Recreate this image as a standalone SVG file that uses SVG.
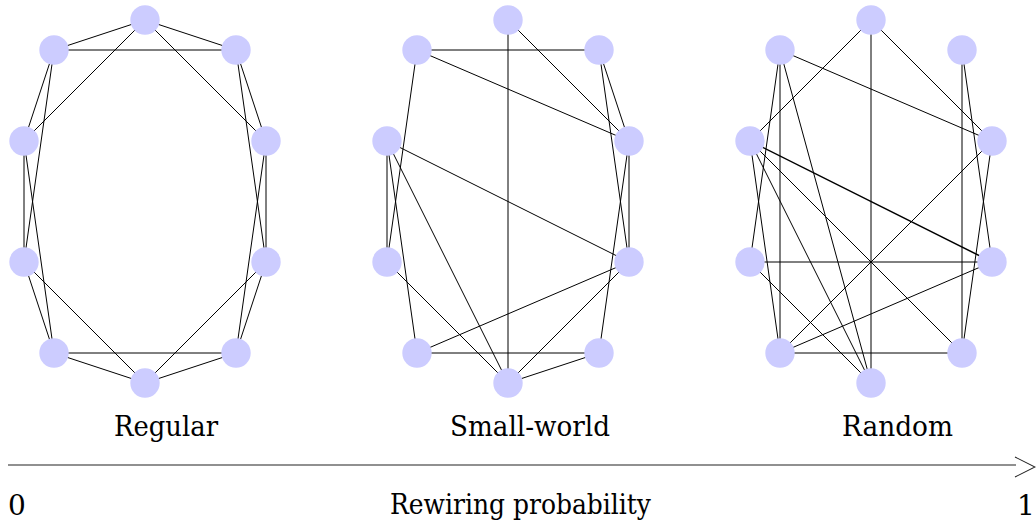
<svg xmlns="http://www.w3.org/2000/svg" width="1036" height="521" viewBox="0 0 1036 521">
<style>
.e{stroke:#000;stroke-width:1;fill:none}
.e2{stroke:#000;stroke-width:1.5;fill:none}
.n{fill:#ccccff;stroke:none}
.t{font-family:"DejaVu Serif",serif;font-size:28px;fill:#000}
.ax{stroke:#222;stroke-width:1.1;fill:none}
</style>
<rect width="1036" height="521" fill="#fff"/>
<g id="connectors">
<g id="regular-edges">
<line class="e" x1="145" y1="20" x2="236" y2="50"/>
<line class="e" x1="236" y1="50" x2="266" y2="141"/>
<line class="e" x1="266" y1="141" x2="266" y2="262"/>
<line class="e" x1="266" y1="262" x2="236" y2="353"/>
<line class="e" x1="236" y1="353" x2="145" y2="383"/>
<line class="e" x1="145" y1="383" x2="54" y2="353"/>
<line class="e" x1="54" y1="353" x2="24" y2="262"/>
<line class="e" x1="24" y1="262" x2="24" y2="141"/>
<line class="e" x1="24" y1="141" x2="54" y2="50"/>
<line class="e" x1="54" y1="50" x2="145" y2="20"/>
<line class="e" x1="145" y1="20" x2="266" y2="141"/>
<line class="e" x1="236" y1="50" x2="266" y2="262"/>
<line class="e" x1="266" y1="141" x2="236" y2="353"/>
<line class="e" x1="266" y1="262" x2="145" y2="383"/>
<line class="e" x1="236" y1="353" x2="54" y2="353"/>
<line class="e" x1="145" y1="383" x2="24" y2="262"/>
<line class="e" x1="54" y1="353" x2="24" y2="141"/>
<line class="e" x1="24" y1="262" x2="54" y2="50"/>
<line class="e" x1="24" y1="141" x2="145" y2="20"/>
<line class="e" x1="54" y1="50" x2="236" y2="50"/>
</g>
<g id="smallworld-edges">
<line class="e" x1="508" y1="20" x2="508" y2="383"/>
<line class="e" x1="508" y1="20" x2="629" y2="141"/>
<line class="e" x1="417" y1="50" x2="599" y2="50"/>
<line class="e" x1="417" y1="50" x2="629" y2="141"/>
<line class="e" x1="417" y1="50" x2="387" y2="262"/>
<line class="e" x1="599" y1="50" x2="629" y2="141"/>
<line class="e" x1="599" y1="50" x2="629" y2="262"/>
<line class="e" x1="387" y1="141" x2="387" y2="262"/>
<line class="e" x1="387" y1="141" x2="417" y2="353"/>
<line class="e" x1="387" y1="141" x2="508" y2="383"/>
<line class="e" x1="387" y1="141" x2="629" y2="262"/>
<line class="e" x1="629" y1="141" x2="629" y2="262"/>
<line class="e" x1="629" y1="141" x2="599" y2="353"/>
<line class="e" x1="629" y1="262" x2="417" y2="353"/>
<line class="e" x1="629" y1="262" x2="508" y2="383"/>
<line class="e" x1="387" y1="262" x2="508" y2="383"/>
<line class="e" x1="417" y1="353" x2="599" y2="353"/>
<line class="e" x1="599" y1="353" x2="508" y2="383"/>
</g>
<g id="random-edges">
<line class="e" x1="871" y1="20" x2="750" y2="141"/>
<line class="e" x1="871" y1="20" x2="871" y2="383"/>
<line class="e" x1="871" y1="20" x2="992" y2="141"/>
<line class="e" x1="780" y1="50" x2="992" y2="141"/>
<line class="e" x1="780" y1="50" x2="750" y2="262"/>
<line class="e" x1="780" y1="50" x2="780" y2="353"/>
<line class="e" x1="780" y1="50" x2="871" y2="383"/>
<line class="e" x1="962" y1="50" x2="962" y2="353"/>
<line class="e" x1="962" y1="50" x2="992" y2="262"/>
<line class="e2" x1="750" y1="141" x2="992" y2="262"/>
<line class="e" x1="750" y1="141" x2="780" y2="353"/>
<line class="e" x1="750" y1="141" x2="871" y2="383"/>
<line class="e" x1="750" y1="141" x2="962" y2="353"/>
<line class="e" x1="750" y1="262" x2="992" y2="262"/>
<line class="e" x1="750" y1="262" x2="871" y2="383"/>
<line class="e" x1="992" y1="141" x2="780" y2="353"/>
<line class="e" x1="992" y1="141" x2="962" y2="353"/>
<line class="e" x1="992" y1="262" x2="780" y2="353"/>
<line class="e" x1="780" y1="353" x2="962" y2="353"/>
</g>
</g>
<g id="regular-nodes">
<g id="r-T"><circle class="n" cx="145" cy="20" r="14.7"/></g>
<g id="r-UR"><circle class="n" cx="236" cy="50" r="14.7"/></g>
<g id="r-R"><circle class="n" cx="266" cy="141" r="14.7"/></g>
<g id="r-LR"><circle class="n" cx="266" cy="262" r="14.7"/></g>
<g id="r-BR"><circle class="n" cx="236" cy="353" r="14.7"/></g>
<g id="r-B"><circle class="n" cx="145" cy="383" r="14.7"/></g>
<g id="r-BL"><circle class="n" cx="54" cy="353" r="14.7"/></g>
<g id="r-LL"><circle class="n" cx="24" cy="262" r="14.7"/></g>
<g id="r-L"><circle class="n" cx="24" cy="141" r="14.7"/></g>
<g id="r-UL"><circle class="n" cx="54" cy="50" r="14.7"/></g>
</g>
<g id="smallworld-nodes">
<g id="s-T"><circle class="n" cx="508" cy="20" r="14.7"/></g>
<g id="s-UR"><circle class="n" cx="599" cy="50" r="14.7"/></g>
<g id="s-R"><circle class="n" cx="629" cy="141" r="14.7"/></g>
<g id="s-LR"><circle class="n" cx="629" cy="262" r="14.7"/></g>
<g id="s-BR"><circle class="n" cx="599" cy="353" r="14.7"/></g>
<g id="s-B"><circle class="n" cx="508" cy="383" r="14.7"/></g>
<g id="s-BL"><circle class="n" cx="417" cy="353" r="14.7"/></g>
<g id="s-LL"><circle class="n" cx="387" cy="262" r="14.7"/></g>
<g id="s-L"><circle class="n" cx="387" cy="141" r="14.7"/></g>
<g id="s-UL"><circle class="n" cx="417" cy="50" r="14.7"/></g>
</g>
<g id="random-nodes">
<g id="x-T"><circle class="n" cx="871" cy="20" r="14.7"/></g>
<g id="x-UR"><circle class="n" cx="962" cy="50" r="14.7"/></g>
<g id="x-R"><circle class="n" cx="992" cy="141" r="14.7"/></g>
<g id="x-LR"><circle class="n" cx="992" cy="262" r="14.7"/></g>
<g id="x-BR"><circle class="n" cx="962" cy="353" r="14.7"/></g>
<g id="x-B"><circle class="n" cx="871" cy="383" r="14.7"/></g>
<g id="x-BL"><circle class="n" cx="780" cy="353" r="14.7"/></g>
<g id="x-LL"><circle class="n" cx="750" cy="262" r="14.7"/></g>
<g id="x-L"><circle class="n" cx="750" cy="141" r="14.7"/></g>
<g id="x-UL"><circle class="n" cx="780" cy="50" r="14.7"/></g>
</g>
<g id="labels">
<text class="t" x="166" y="436" text-anchor="middle" textLength="104" lengthAdjust="spacingAndGlyphs">Regular</text>
<text class="t" x="530" y="436" text-anchor="middle" textLength="160" lengthAdjust="spacingAndGlyphs">Small-world</text>
<text class="t" x="897.5" y="436" text-anchor="middle" textLength="111" lengthAdjust="spacingAndGlyphs">Random</text>
</g>
<g id="axis">
<line class="ax" x1="8" y1="465" x2="1016" y2="465"/>
<polyline class="ax" points="1015,457 1035,467 1015,477"/>
<text class="t" x="8" y="515">0</text>
<text class="t" x="1017" y="515">1</text>
<text class="t" x="390" y="514" textLength="261" lengthAdjust="spacingAndGlyphs">Rewiring probability</text>
</g>
</svg>
